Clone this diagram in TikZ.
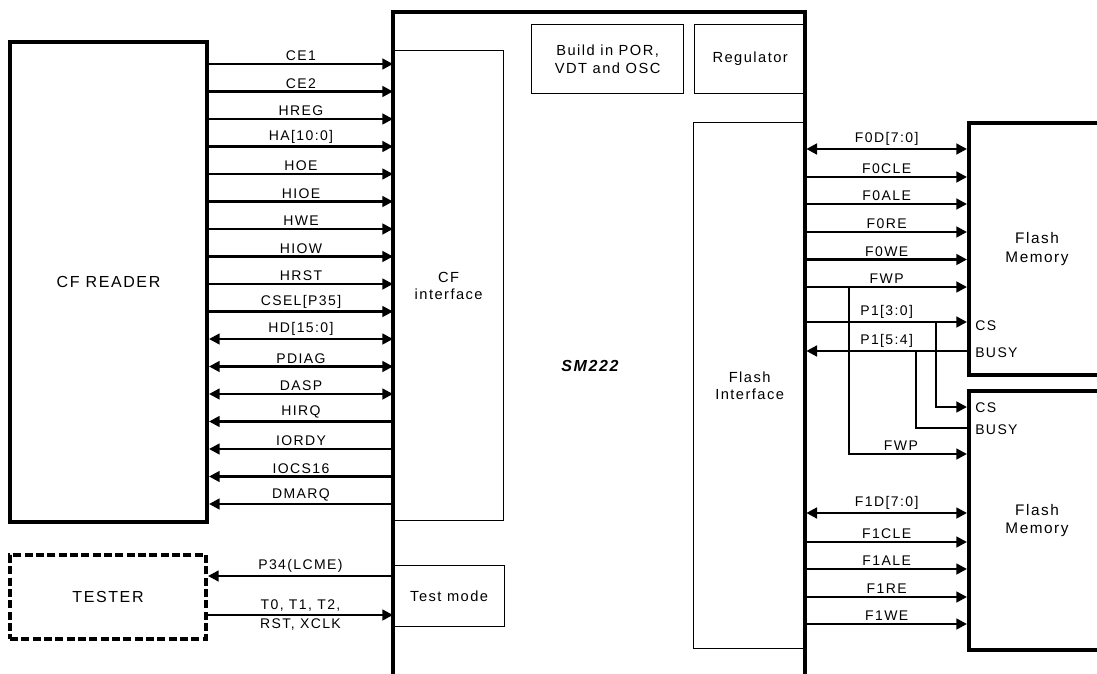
\documentclass[tikz,border=0pt]{standalone}
\usepackage{fontspec}
\setmainfont[LetterSpace=10]{Liberation Sans}
\usetikzlibrary{arrows.meta, positioning}
\tikzset{
  sz/.style 2 args={
    minimum width=#1*0.75pt,
    minimum height=#2*0.75pt
  },
  blk/.style={
    draw,
    line width=1pt,
    inner sep=0pt,
    align=center,
    anchor=north west,
    font=\fontsize{11}{13}\selectfont
  },
  big blk/.style={
    blk,
    line width=3pt,
    font=\fontsize{12}{15}\selectfont
  },
  tester blk/.style={
    big blk,
    dash pattern=on 6pt off 2.5pt
  },
  to sig/.style={
    -{Triangle[length=8pt, width=8pt]},
    line width=1.9pt
  },
  from sig/.style={
    {Triangle[length=8pt, width=8pt]}-,
    line width=1.9pt
  },
  bi sig/.style={
    {Triangle[length=8pt, width=8pt]}-{Triangle[length=8pt, width=8pt]},
    line width=1.9pt
  },
  plain sig/.style={
    -,
    line width=1.9pt
  },
  sig label/.style={
    font=\fontsize{10.5}{11.5}\selectfont,
    inner sep=1.5pt
  }
}

\begin{document}
\begin{tikzpicture}[x=0.75pt, y=-0.75pt]

  %% ---- page frame (pixel coordinates, y downwards) ----
  \useasboundingbox (0,0) rectangle (1097,674);
  \clip (0,0) rectangle (1097,674);

  %% ---- blocks ----
  \node[big blk, sz={197}{480}] (reader) at (8,40) {CF READER};
  \node[tester blk, sz={196}{84}] (tester) at (8,553) {TESTER};

  % SM222 outline, open at the bottom
  \coordinate (smbl) at (393,680);
  \coordinate (smtr) at (805,12);
  \coordinate (smbr) at (805,680);
  \draw[line width=3pt] (smbl) |- (smtr) -- (smbr);
  \node[font=\bfseries\itshape\fontsize{12}{14}\selectfont] (sm) at (590,366) {SM222};

  \node[blk, sz={110}{470}] (cfif) at (393,50) {CF\\interface};
  \node[blk, sz={111}{61}] (testmode) at (393,565) {Test mode};
  \node[blk, sz={152}{69}] (por) at (531,24) {Build in POR,\\VDT and OSC};
  \node[blk, sz={111}{69}] (reg) at (694,24) {Regulator};
  \node[blk, sz={112}{526}] (flashif) at (693,122) {Flash\\Interface};

  % flash chips run off the right edge
  \node[big blk, sz={136}{252}, font=\fontsize{11.5}{14}\selectfont] (mem1) at (967,121) {Flash\\Memory};
  \node[big blk, sz={136}{259}, font=\fontsize{11.5}{14}\selectfont] (mem2) at (967,389) {Flash\\Memory};

  %% ---- CF reader <-> CF interface ----
  \foreach \y/\lab/\st in {64/CE1/to sig, 91.5/CE2/to sig, 119/HREG/to sig,
      146.5/{HA[10:0]}/to sig, 174/HOE/to sig, 201.5/HIOE/to sig,
      229/HWE/to sig, 256.5/HIOW/to sig, 284/HRST/to sig,
      311.5/{CSEL[P35]}/to sig, 339/{HD[15:0]}/bi sig, 366.5/PDIAG/bi sig,
      394/DASP/bi sig, 421.5/HIRQ/from sig, 449/IORDY/from sig,
      476.5/IOCS16/from sig, 504/DMARQ/from sig}
    \draw[\st] (reader.east |- 0,\y) -- (cfif.west |- 0,\y)
      node[midway, above, sig label] {\lab};

  %% ---- tester <-> test mode ----
  \draw[to sig] (testmode.west |- 0,576) -- (tester.east |- 0,576)
    node[midway, above, sig label] {P34(LCME)};
  \draw[to sig] (tester.east |- 0,615) -- (testmode.west |- 0,615)
    node[midway, above, sig label] {T0, T1, T2,}
    node[midway, below, sig label] {RST, XCLK};

  %% ---- flash interface -> chip 0 ----
  \foreach \y/\lab/\st in {149/{F0D[7:0]}/bi sig, 177/F0CLE/to sig,
      204/F0ALE/to sig, 232/F0RE/to sig, 259.5/F0WE/to sig, 287/FWP/to sig}
    \draw[\st] (flashif.east |- 0,\y) -- (mem1.west |- 0,\y)
      node[midway, above, sig label] {\lab};

  % chip select / busy
  \draw[to sig] (flashif.east |- 0,322) -- (mem1.west |- 0,322)
    node[midway, above, sig label] {P1[3:0]};
  \draw[from sig] (flashif.east |- 0,351) -- (mem1.west |- 0,351)
    node[midway, above, sig label] {P1[5:4]};
  \node[sig label, anchor=west] (cs1) at (973,326) {CS};
  \node[sig label, anchor=west] (busy1) at (973,353) {BUSY};

  %% ---- branches down to chip 1 ----
  \coordinate (wpj) at (849,287);
  \coordinate (csj) at (936,322);
  \coordinate (bsj) at (916,351);
  \draw[to sig] (csj) |- (mem2.west |- 0,407);
  \draw[plain sig] (bsj) |- (mem2.west |- 0,428);
  \draw[to sig] (wpj) |- (mem2.west |- 0,454)
    node[pos=0.72, above, sig label] {FWP};
  \node[sig label, anchor=west] (cs2) at (973,408) {CS};
  \node[sig label, anchor=west] (busy2) at (973,430) {BUSY};

  %% ---- flash interface -> chip 1 ----
  \foreach \y/\lab/\st in {513/{F1D[7:0]}/bi sig, 542/F1CLE/to sig,
      569/F1ALE/to sig, 597/F1RE/to sig, 624/F1WE/to sig}
    \draw[\st] (flashif.east |- 0,\y) -- (mem2.west |- 0,\y)
      node[midway, above, sig label] {\lab};

\end{tikzpicture}
\end{document}
